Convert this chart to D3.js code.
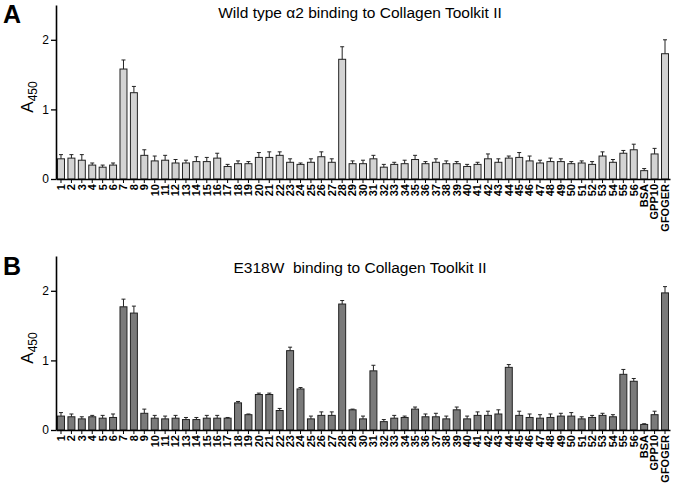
<!DOCTYPE html>
<html>
<head>
<meta charset="utf-8">
<script src="https://cdn.jsdelivr.net/npm/d3@7"></script>
<style>
  body { margin: 0; background: #fff; }
  svg { font-family: "Liberation Sans", Arial, sans-serif; }
</style>
</head>
<body>
<svg width="674" height="487"></svg>
<script>
const categories = ["1","2","3","4","5","6","7","8","9","10","11","12","13","14","15","16","17","18","19","20",
  "21","22","23","24","25","26","27","28","29","30","31","32","33","34","35","36","37","38","39","40",
  "41","42","43","44","45","46","47","48","49","50","51","52","53","54","55","56","BSA","GPP10","GFOGER"];

// panel A: wild type
const wtMean = [0.29,0.30,0.27,0.20,0.17,0.20,1.58,1.24,0.34,0.26,0.27,0.23,0.23,0.25,0.25,0.30,0.18,0.22,0.22,0.31,
  0.31,0.34,0.24,0.21,0.24,0.32,0.24,1.72,0.22,0.22,0.29,0.17,0.21,0.22,0.28,0.22,0.24,0.22,0.22,0.18,
  0.21,0.29,0.24,0.30,0.31,0.26,0.23,0.25,0.25,0.22,0.23,0.21,0.33,0.24,0.37,0.42,0.12,0.36,1.80];
const wtErr = [0.06,0.05,0.08,0.03,0.03,0.03,0.13,0.09,0.08,0.07,0.07,0.05,0.04,0.07,0.06,0.07,0.03,0.04,0.03,0.07,
  0.08,0.05,0.05,0.02,0.05,0.07,0.05,0.18,0.04,0.05,0.05,0.04,0.03,0.05,0.06,0.03,0.05,0.04,0.03,0.03,
  0.03,0.07,0.05,0.03,0.07,0.07,0.04,0.05,0.04,0.03,0.03,0.04,0.06,0.04,0.04,0.08,0.03,0.08,0.20];

// panel B: E318W
const mutMean = [0.20,0.19,0.16,0.19,0.17,0.18,1.77,1.68,0.24,0.17,0.16,0.17,0.15,0.15,0.17,0.17,0.17,0.39,0.22,0.51,
  0.51,0.28,1.14,0.59,0.16,0.21,0.21,1.81,0.29,0.16,0.85,0.12,0.17,0.18,0.30,0.19,0.19,0.16,0.29,0.16,
  0.21,0.21,0.23,0.90,0.21,0.18,0.17,0.18,0.20,0.20,0.16,0.18,0.21,0.19,0.80,0.70,0.08,0.22,1.97];
const mutErr = [0.05,0.04,0.03,0.02,0.04,0.05,0.11,0.10,0.06,0.04,0.04,0.04,0.03,0.03,0.04,0.04,0.01,0.02,0.01,0.02,
  0.02,0.03,0.05,0.02,0.04,0.05,0.05,0.05,0.01,0.04,0.08,0.03,0.04,0.02,0.03,0.04,0.05,0.04,0.04,0.04,
  0.05,0.06,0.06,0.04,0.06,0.05,0.05,0.05,0.04,0.05,0.03,0.03,0.03,0.03,0.07,0.04,0.01,0.05,0.09];

const yTicks = [0, 1, 2];

const svg = d3.select("svg");

function drawPanel(opts) {
  const g = svg.append("g");
  const x = d3.scaleBand().domain(categories).range([56, 670]).paddingInner(0.33).paddingOuter(0.145);
  const y = d3.scaleLinear().domain([0, 2.5]).range([opts.bottom, opts.bottom - 174]);

  // bars
  g.selectAll("rect.bar")
    .data(opts.mean)
    .enter().append("rect")
      .attr("class", "bar")
      .attr("x", (d, i) => x(categories[i]))
      .attr("y", d => y(d))
      .attr("width", x.bandwidth())
      .attr("height", d => y(0) - y(d))
      .attr("fill", opts.fill)
      .attr("stroke", "#222")
      .attr("stroke-width", 1);

  // error bars (upper only)
  const eb = g.selectAll("g.err")
    .data(opts.mean.map((m, i) => ({c: categories[i], m: m, e: opts.err[i]})))
    .enter().append("g").attr("class", "err");
  eb.append("line")
    .attr("x1", d => x(d.c) + x.bandwidth() / 2)
    .attr("x2", d => x(d.c) + x.bandwidth() / 2)
    .attr("y1", d => y(d.m))
    .attr("y2", d => y(d.m + d.e))
    .attr("stroke", "#222").attr("stroke-width", 1);
  eb.append("line")
    .attr("x1", d => x(d.c) + x.bandwidth() / 2 - 2)
    .attr("x2", d => x(d.c) + x.bandwidth() / 2 + 2)
    .attr("y1", d => y(d.m + d.e))
    .attr("y2", d => y(d.m + d.e))
    .attr("stroke", "#222").attr("stroke-width", 1);

  // x axis
  const xAxis = g.append("g")
    .attr("transform", `translate(0,${opts.bottom})`)
    .call(d3.axisBottom(x).tickSize(4).tickPadding(2).tickSizeOuter(0));
  xAxis.select(".domain").attr("stroke", "#000").attr("stroke-width", 1.6);
  xAxis.selectAll(".tick line").attr("stroke", "#000").attr("stroke-width", 1);
  xAxis.selectAll(".tick text")
    .attr("transform", "rotate(-90)")
    .attr("x", -5).attr("y", 0).attr("dy", "0.35em")
    .style("text-anchor", "end")
    .attr("font-size", 11)
    .attr("font-weight", "bold")
    .attr("fill", "#000");

  // y axis
  const yAxis = g.append("g")
    .attr("transform", "translate(56,0)")
    .call(d3.axisLeft(y).tickValues(yTicks).tickFormat(d3.format("d")).tickSize(5).tickPadding(2).tickSizeOuter(0));
  yAxis.select(".domain").attr("stroke", "#000").attr("stroke-width", 1.6);
  yAxis.selectAll(".tick line").attr("stroke", "#000").attr("stroke-width", 1.3);
  yAxis.selectAll(".tick text").attr("font-size", 12).attr("fill", "#000");

  // y label
  const yl = g.append("text")
    .attr("transform", `translate(33,${opts.bottom - 82}) rotate(-90)`)
    .attr("text-anchor", "middle")
    .attr("font-size", 17);
  yl.append("tspan").text("A");
  yl.append("tspan").attr("font-size", 12).attr("dy", 4).text("450");

  // title
  g.append("text")
    .attr("x", opts.titleX).attr("y", opts.titleY)
    .attr("text-anchor", "middle")
    .attr("font-size", 15.5)
    .text(opts.title);

  // panel letter
  g.append("text")
    .attr("x", 3).attr("y", opts.letterY)
    .attr("font-size", 25).attr("font-weight", "bold")
    .text(opts.letter);
}

drawPanel({bottom: 179, mean: wtMean, err: wtErr, fill: "#d3d3d3",
  title: "Wild type \u03b12 binding to Collagen Toolkit II", titleX: 360, titleY: 18, letter: "A", letterY: 23});
drawPanel({bottom: 430, mean: mutMean, err: mutErr, fill: "#7a7a7a",
  title: "E318W\u00a0 binding to Collagen Toolkit II", titleX: 360, titleY: 273, letter: "B", letterY: 275});
</script>
</body>
</html>
